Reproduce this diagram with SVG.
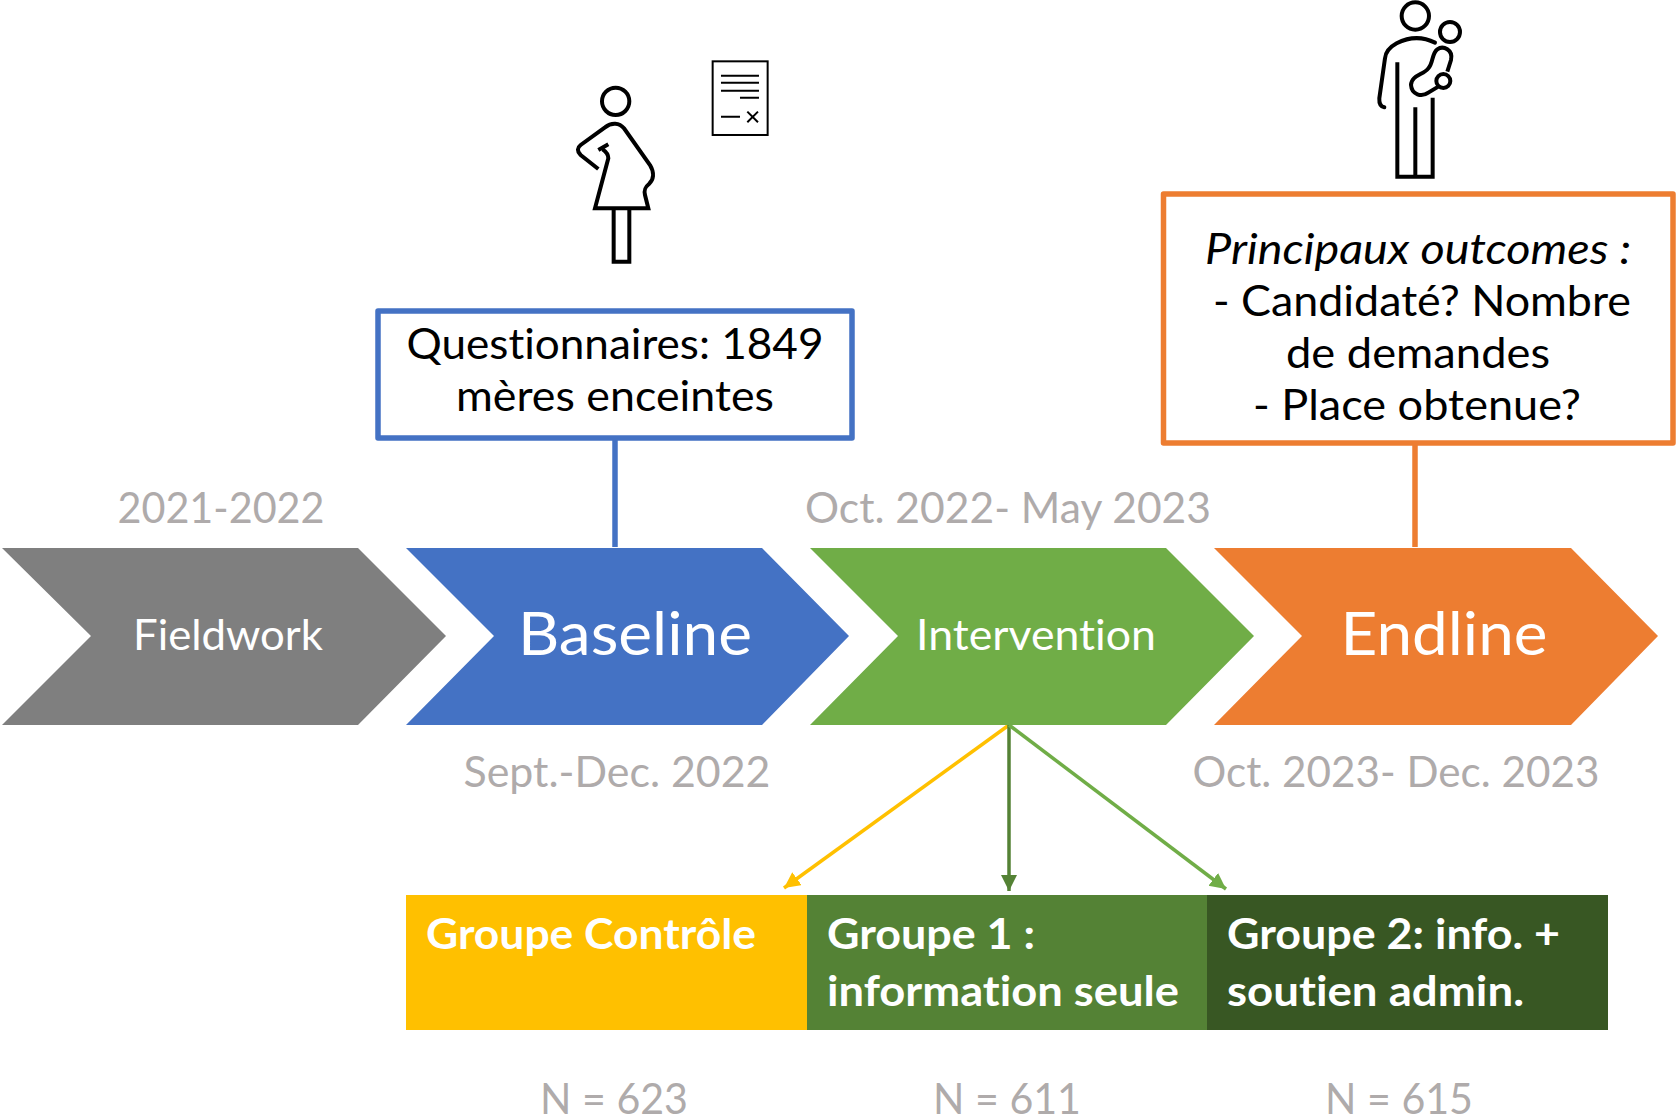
<svg xmlns="http://www.w3.org/2000/svg" width="1676" height="1119" viewBox="0 0 1676 1119">
<style>
text{font-family:Lato,"Open Sans",sans-serif;font-variant-ligatures:none}
.d{fill:#AFABAB;font-size:43px}
.b{fill:#000;font-size:43px}
.w{fill:#fff}
.g{fill:#fff;font-weight:700;font-size:42px}
.i{fill:none;stroke:#000;stroke-width:12}
</style>
<defs>
<marker id="ay" markerUnits="userSpaceOnUse" markerWidth="18" markerHeight="18" refX="16" refY="8" orient="auto"><path d="M0,0L16,8L0,16Z" fill="#FFC000"/></marker>
<marker id="ad" markerUnits="userSpaceOnUse" markerWidth="18" markerHeight="18" refX="16" refY="8" orient="auto"><path d="M0,0L16,8L0,16Z" fill="#548235"/></marker>
<marker id="ag" markerUnits="userSpaceOnUse" markerWidth="18" markerHeight="18" refX="16" refY="8" orient="auto"><path d="M0,0L16,8L0,16Z" fill="#70AD47"/></marker>
</defs>
<rect width="1676" height="1119" fill="#fff"/>
<g id="connectors" fill="none">
<path d="M615 438V547" stroke="#4472C4" stroke-width="5.5"/>
<path d="M1415 443V547" stroke="#ED7D31" stroke-width="5.5"/>
<path d="M1009 725L784 888" stroke="#FFC000" stroke-width="3.5" marker-end="url(#ay)"/>
<path d="M1009 725V891" stroke="#548235" stroke-width="3.5" marker-end="url(#ad)"/>
<path d="M1009 725L1226 889" stroke="#70AD47" stroke-width="3.5" marker-end="url(#ag)"/>
</g>
<g id="icon-mother" transform="translate(540 40) scale(.3333)">
<circle class="i" cx="227" cy="184" r="41"/>
<path class="i" d="M175 387L122 345C110 333 112 323 122 315L195 262C215 246 238 248 252 265L330 375C345 400 340 420 327 432C313 443 312 452 315 465L325 505H165L205 355C205 345 197 334 188 328M175 330L205 313"/>
<path class="i" d="M221 505V665H268V505"/>
</g>
<g id="icon-document" transform="translate(540 40) scale(.3333)">
<rect x="518" y="64" width="165" height="221" fill="#fff" stroke="#000" stroke-width="6"/>
<path fill="none" stroke="#000" stroke-width="6" d="M543 107H657M543 128H657M543 152H657M600 173H657M543 230H600M622 215L654 247M654 215L622 247"/>
</g>
<g id="icon-parent" transform="translate(1350 0) scale(.3333)">
<circle class="i" cx="196" cy="48" r="41"/>
<circle class="i" cx="300" cy="96" r="30"/>
<circle class="i" cx="280" cy="243" r="21"/>
<path class="i" stroke-linecap="round" d="M255 128C215 108 175 112 140 130C118 142 107 155 105 175L88 295C87 312 93 320 103 322"/>
<path class="i" d="M142 187V530H248V293M196 322V530"/>
<path class="i" d="M292 215L303 180C310 150 280 135 262 148C245 160 250 190 235 205C220 225 185 225 183 255C185 285 215 292 235 278L265 260"/>
</g>
<g id="box-baseline">
<rect x="378" y="311" width="474" height="127" fill="#fff" stroke="#4472C4" stroke-width="5.5" stroke-linejoin="round"/>
<text class="b" x="615" y="359" text-anchor="middle" textLength="417" lengthAdjust="spacingAndGlyphs">Questionnaires: 1849</text>
<text class="b" x="615" y="411" text-anchor="middle" textLength="318" lengthAdjust="spacingAndGlyphs">mères enceintes</text>
</g>
<g id="box-endline">
<rect x="1163.5" y="194" width="509.5" height="249" fill="#fff" stroke="#ED7D31" stroke-width="5.5" stroke-linejoin="round"/>
<text class="b" x="1418" y="264" text-anchor="middle" font-style="italic" textLength="426" lengthAdjust="spacingAndGlyphs">Principaux outcomes :</text>
<text class="b" x="1422" y="316" text-anchor="middle" textLength="418" lengthAdjust="spacingAndGlyphs">- Candidaté? Nombre</text>
<text class="b" x="1418" y="368" text-anchor="middle" textLength="264" lengthAdjust="spacingAndGlyphs">de demandes</text>
<text class="b" x="1417" y="420" text-anchor="middle" textLength="328" lengthAdjust="spacingAndGlyphs">- Place obtenue?</text>
</g>
<g id="node-fieldwork">
<path d="M2 548H358L446 636L358 725H2L91 636Z" fill="#7F7F7F"/>
<text class="w" x="228" y="650" font-size="42" text-anchor="middle" textLength="190" lengthAdjust="spacingAndGlyphs">Fieldwork</text>
<text class="d" x="221" y="523" text-anchor="middle" textLength="207" lengthAdjust="spacingAndGlyphs">2021-2022</text>
</g>
<g id="node-baseline">
<path d="M406 548H762L849 636L762 725H406L494 636Z" fill="#4472C4"/>
<text class="w" x="635" y="655" font-size="60" text-anchor="middle" textLength="234" lengthAdjust="spacingAndGlyphs">Baseline</text>
<text class="d" x="617" y="787" text-anchor="middle" textLength="307" lengthAdjust="spacingAndGlyphs">Sept.-Dec. 2022</text>
</g>
<g id="node-intervention">
<path d="M810 548H1166L1254 636L1166 725H810L898 636Z" fill="#70AD47"/>
<text class="w" x="1036" y="650" font-size="42" text-anchor="middle" textLength="240" lengthAdjust="spacingAndGlyphs">Intervention</text>
<text class="d" x="1008" y="523" text-anchor="middle" textLength="406" lengthAdjust="spacingAndGlyphs">Oct. 2022- May 2023</text>
</g>
<g id="node-endline">
<path d="M1214 548H1571L1658 636L1571 725H1214L1302 636Z" fill="#ED7D31"/>
<text class="w" x="1444" y="655" font-size="60" text-anchor="middle" textLength="207" lengthAdjust="spacingAndGlyphs">Endline</text>
<text class="d" x="1396" y="787" text-anchor="middle" textLength="407" lengthAdjust="spacingAndGlyphs">Oct. 2023- Dec. 2023</text>
</g>
<g id="group-controle">
<rect x="406" y="895" width="401" height="135" fill="#FFC000"/>
<text class="g" x="426" y="949" textLength="330" lengthAdjust="spacingAndGlyphs">Groupe Contrôle</text>
<text class="d" x="614" y="1114" text-anchor="middle" textLength="148" lengthAdjust="spacingAndGlyphs">N = 623</text>
</g>
<g id="group-1">
<rect x="807" y="895" width="400" height="135" fill="#548235"/>
<text class="g" x="827" y="949" textLength="208" lengthAdjust="spacingAndGlyphs">Groupe 1 :</text>
<text class="g" x="827" y="1006" textLength="352" lengthAdjust="spacingAndGlyphs">information seule</text>
<text class="d" x="1007" y="1114" text-anchor="middle" textLength="148" lengthAdjust="spacingAndGlyphs">N = 611</text>
</g>
<g id="group-2">
<rect x="1207" y="895" width="401" height="135" fill="#385723"/>
<text class="g" x="1227" y="949" textLength="333" lengthAdjust="spacingAndGlyphs">Groupe 2: info. +</text>
<text class="g" x="1227" y="1006" textLength="297" lengthAdjust="spacingAndGlyphs">soutien admin.</text>
<text class="d" x="1399" y="1114" text-anchor="middle" textLength="148" lengthAdjust="spacingAndGlyphs">N = 615</text>
</g>
</svg>
